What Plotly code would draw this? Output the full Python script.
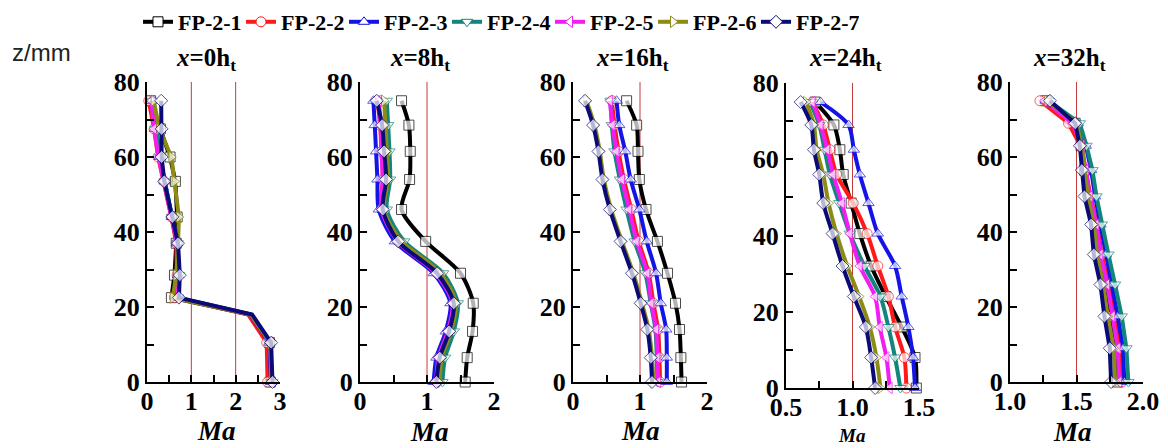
import plotly.graph_objects as go

# ---------------- data ----------------
series_names = ["FP-2-1", "FP-2-2", "FP-2-3", "FP-2-4", "FP-2-5", "FP-2-6", "FP-2-7"]
series_colors = ["#000000", "#ff1a1a", "#1414e6", "#12857c", "#f01ef0", "#8c8c14", "#0a0a78"]
series_symbols = ["square", "circle", "triangle-up", "triangle-down", "triangle-left", "triangle-right", "diamond"]

panel_titles = ["0", "8", "16", "24", "32"]          # x / h_t
x_ranges = [[0, 3], [0, 2], [0, 2], [0.5, 1.5], [1.0, 2.0]]
x_dticks = [1, 1, 1, 0.5, 0.5]
x_formats = ["d", "d", "d", ".1f", ".1f"]
sonic_lines = [[1, 2], [1], [1], [1.0], [1.5]]      # vertical reference lines (Ma)

# z (mm) at each panel
z_0h = [75, 67.5, 60, 53.5, 44, 37, 28.5, 22.5, 18, 10.5, 0]
z_8h = [75, 68.5, 61.5, 54, 46, 37.5, 29, 21, 13.5, 6.5, 0]
z_16h = [75, 68.5, 61.5, 54, 46, 37.5, 29, 21, 14, 6.5, 0]
z_24h = [75, 69, 62.5, 56, 48.5, 40.5, 32, 24, 16, 8, 0]
z_32h = [75, 69, 63, 56.5, 49.5, 42, 34, 26, 17.5, 9, 0]

# points drawn without a symbol (index into z list), per panel
no_symbol_0h = [8]

# Ma values, one list per series (FP-2-1 ... FP-2-7)
ma_0h = [
    [0.08, 0.30, 0.52, 0.64, 0.68, 0.66, 0.62, 0.55, 2.32, 2.76, 2.78],
    [0.04, 0.16, 0.25, 0.38, 0.55, 0.66, 0.68, 0.62, 2.28, 2.70, 2.72],
    [0.10, 0.18, 0.28, 0.40, 0.56, 0.68, 0.70, 0.66, 2.33, 2.76, 2.80],
    [0.12, 0.20, 0.30, 0.40, 0.57, 0.69, 0.72, 0.70, 2.35, 2.78, 2.82],
    [0.10, 0.16, 0.26, 0.37, 0.55, 0.68, 0.70, 0.68, 2.34, 2.78, 2.81],
    [0.15, 0.28, 0.55, 0.62, 0.72, 0.70, 0.66, 0.58, 2.34, 2.78, 2.81],
    [0.32, 0.33, 0.33, 0.39, 0.57, 0.70, 0.74, 0.72, 2.37, 2.80, 2.83],
]
ma_8h = [
    [0.62, 0.73, 0.75, 0.74, 0.62, 0.98, 1.50, 1.69, 1.68, 1.60, 1.57],
    [0.26, 0.30, 0.32, 0.34, 0.32, 0.58, 1.16, 1.40, 1.33, 1.19, 1.15],
    [0.20, 0.22, 0.24, 0.26, 0.28, 0.52, 1.10, 1.35, 1.28, 1.14, 1.10],
    [0.40, 0.42, 0.44, 0.45, 0.40, 0.66, 1.24, 1.46, 1.40, 1.27, 1.23],
    [0.28, 0.31, 0.32, 0.34, 0.32, 0.56, 1.13, 1.38, 1.31, 1.17, 1.14],
    [0.36, 0.38, 0.40, 0.42, 0.36, 0.62, 1.20, 1.43, 1.36, 1.22, 1.19],
    [0.25, 0.33, 0.36, 0.39, 0.34, 0.57, 1.15, 1.40, 1.33, 1.19, 1.14],
]
ma_16h = [
    [0.80, 0.95, 0.97, 0.99, 1.09, 1.26, 1.41, 1.53, 1.59, 1.61, 1.62],
    [0.58, 0.62, 0.68, 0.76, 0.87, 0.98, 1.13, 1.20, 1.27, 1.29, 1.30],
    [0.65, 0.69, 0.78, 0.86, 0.99, 1.10, 1.24, 1.31, 1.39, 1.40, 1.40],
    [0.56, 0.58, 0.62, 0.70, 0.80, 0.92, 1.08, 1.16, 1.23, 1.25, 1.26],
    [0.55, 0.59, 0.65, 0.73, 0.84, 0.95, 1.11, 1.17, 1.24, 1.26, 1.27],
    [0.20, 0.32, 0.40, 0.46, 0.57, 0.73, 0.90, 1.03, 1.13, 1.18, 1.20],
    [0.18, 0.30, 0.38, 0.44, 0.55, 0.71, 0.88, 1.01, 1.11, 1.16, 1.18],
]
ma_24h = [
    [0.72, 0.86, 0.905, 0.93, 0.99, 1.055, 1.14, 1.25, 1.37, 1.47, 1.48],
    [0.70, 0.78, 0.83, 0.88, 1.005, 1.11, 1.19, 1.27, 1.32, 1.39, 1.405],
    [0.76, 0.97, 1.01, 1.055, 1.12, 1.19, 1.32, 1.37, 1.42, 1.455, 1.47],
    [0.68, 0.75, 0.79, 0.83, 0.90, 0.98, 1.09, 1.21, 1.27, 1.32, 1.36],
    [0.70, 0.76, 0.81, 0.855, 0.92, 0.98, 1.055, 1.17, 1.205, 1.255, 1.28],
    [0.65, 0.71, 0.73, 0.78, 0.82, 0.88, 0.96, 1.05, 1.13, 1.18, 1.21],
    [0.61, 0.69, 0.71, 0.75, 0.78, 0.85, 0.925, 1.01, 1.10, 1.14, 1.17],
]
ma_32h = [
    [1.27, 1.49, 1.535, 1.56, 1.59, 1.64, 1.665, 1.715, 1.75, 1.795, 1.81],
    [1.225, 1.44, 1.53, 1.57, 1.605, 1.655, 1.69, 1.74, 1.785, 1.83, 1.84],
    [1.27, 1.51, 1.57, 1.61, 1.64, 1.68, 1.72, 1.77, 1.81, 1.85, 1.86],
    [1.29, 1.525, 1.575, 1.62, 1.65, 1.69, 1.74, 1.79, 1.84, 1.875, 1.89],
    [1.26, 1.47, 1.54, 1.57, 1.60, 1.65, 1.68, 1.73, 1.77, 1.81, 1.82],
    [1.28, 1.50, 1.54, 1.56, 1.585, 1.63, 1.655, 1.70, 1.735, 1.78, 1.79],
    [1.30, 1.49, 1.525, 1.54, 1.56, 1.61, 1.63, 1.68, 1.71, 1.75, 1.76],
]

panels_z = [z_0h, z_8h, z_16h, z_24h, z_32h]
panels_ma = [ma_0h, ma_8h, ma_16h, ma_24h, ma_32h]
panels_hidden = [no_symbol_0h, [], [], [], []]
panels_shape = ["linear", "spline", "spline", "spline", "linear"]

# ---------------- layout geometry (pixels) ----------------
W, H = 1168, 448
panel_px = [(147, 280, 82, 382), (360, 494, 82, 382), (573, 707, 82, 382),
            (786, 919, 83, 388), (1010, 1143, 82, 382)]
ma_label_px = [(216, 431, 27), (430, 432, 27), (641, 431, 27), (852, 435, 19), (1072, 432, 27)]

SERIF = "Liberation Serif"
LW = 4
MS = 10
fig = go.Figure()

# legend-only entries
for name, col, sym in zip(series_names, series_colors, series_symbols):
    fig.add_trace(go.Scatter(
        x=[None], y=[None], mode="lines+markers", name=name,
        line=dict(color=col, width=LW),
        marker=dict(symbol=sym, size=MS, color="white", line=dict(color=col, width=1)),
        showlegend=True))

for k in range(5):
    xa = "x" if k == 0 else f"x{k+1}"
    ya = "y" if k == 0 else f"y{k+1}"
    zs = panels_z[k]
    for s in range(7):
        sizes = [0 if i in panels_hidden[k] else MS for i in range(len(zs))]
        lws = [0 if i in panels_hidden[k] else 1 for i in range(len(zs))]
        fig.add_trace(go.Scatter(
            x=panels_ma[k][s], y=zs, xaxis=xa, yaxis=ya, mode="lines+markers",
            line=dict(color=series_colors[s], width=LW, shape=panels_shape[k], smoothing=0.8),
            marker=dict(symbol=series_symbols[s], size=sizes, color="white",
                        line=dict(color=series_colors[s], width=lws)),
            cliponaxis=False, showlegend=False, hoverinfo="skip"))

    x0, x1, y0, y1 = panel_px[k]
    axis_common = dict(showline=True, linewidth=2, linecolor="black", mirror=False,
                       showgrid=False, zeroline=False, ticks="inside", ticklen=7,
                       tickwidth=1.5, tickcolor="black", automargin=False,
                       tickfont=dict(family=SERIF, size=26, color="black", weight="bold"))
    xr = x_ranges[k]
    fig.layout[("xaxis" if k == 0 else f"xaxis{k+1}")] = dict(
        domain=[x0 / W, x1 / W], anchor=ya, range=xr, tick0=xr[0], dtick=x_dticks[k],
        tickformat=x_formats[k], ticklabelstandoff=-5,
        minor=dict(dtick=x_dticks[k] / 2, tick0=xr[0], ticks="inside", ticklen=7,
                   tickwidth=1.5, tickcolor="black"),
        **axis_common)
    fig.layout[("yaxis" if k == 0 else f"yaxis{k+1}")] = dict(
        domain=[1 - y1 / H, 1 - y0 / H], anchor=xa, range=[0, 80], tick0=0, dtick=20,
        minor=dict(dtick=10, tick0=0, ticks="inside", ticklen=7, tickwidth=1.5,
                   tickcolor="black"),
        **axis_common)

    for v in sonic_lines[k]:
        fig.add_shape(type="line", xref=xa, yref=ya, x0=v, x1=v, y0=0, y1=80,
                      line=dict(color="#c43c3c", width=1), layer="below")

    # panel title
    fig.add_annotation(xref="paper", yref="paper", x=(x0 + x1) / 2 / W - 0.006,
                       y=1 - 60 / H, xanchor="center", yanchor="middle",
                       text=f"<i>x</i>={panel_titles[k]}h<sub>t</sub>", showarrow=False,
                       font=dict(family=SERIF, size=25, color="black", weight="bold"))
    mx, my, ms = ma_label_px[k]
    fig.add_annotation(xref="paper", yref="paper", x=mx / W, y=1 - my / H,
                       xanchor="center", yanchor="middle", text="<i>Ma</i>",
                       showarrow=False,
                       font=dict(family=SERIF, size=ms, color="black", weight="bold"))

fig.add_annotation(xref="paper", yref="paper", x=10 / W, y=1 - 53 / H, xanchor="left",
                   yanchor="middle", text="z/mm", showarrow=False,
                   font=dict(family="Liberation Sans", size=24, color="#222222"))

fig.update_layout(
    template="none",
    width=W, height=H, margin=dict(l=0, r=0, t=0, b=0, pad=0, autoexpand=False),
    paper_bgcolor="white", plot_bgcolor="white",
    legend=dict(orientation="h", x=138 / W, y=1 - 1 / H, xanchor="left", yanchor="top",
                font=dict(family=SERIF, size=22, color="black", weight="bold"),
                bgcolor="rgba(0,0,0,0)", borderwidth=0, entrywidth=58, itemwidth=30,
                tracegroupgap=0),
    showlegend=True,
)

fig.write_html("out.html", config={"displayModeBar": False},
               post_script="document.body.style.margin='0px';"
                           "document.body.style.overflow='hidden';")
